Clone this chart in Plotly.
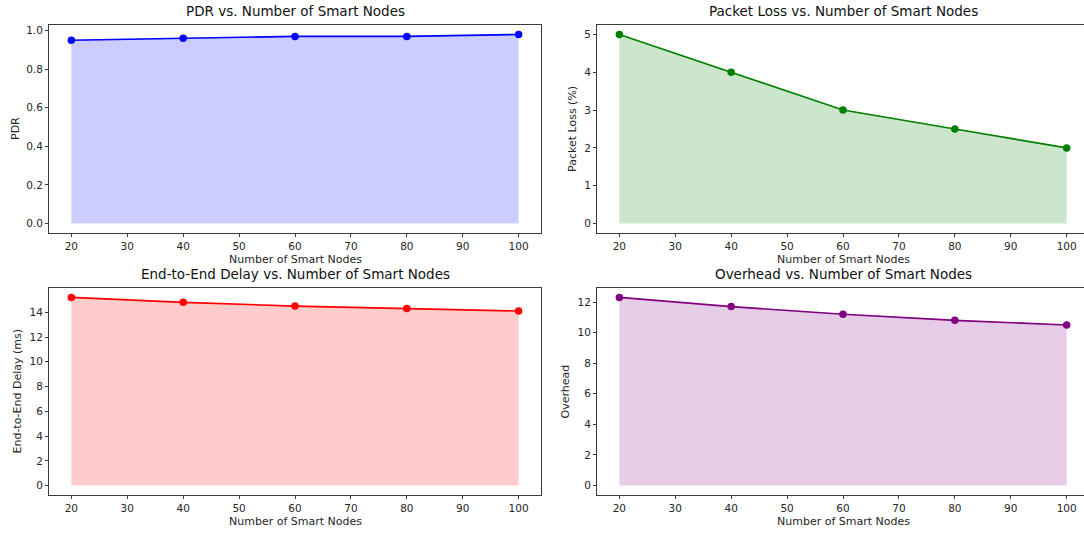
import plotly.graph_objects as go

W, H = 1084, 536

nodes = [20, 40, 60, 80, 100]
pdr = [0.95, 0.96, 0.97, 0.97, 0.98]
packet_loss = [5.0, 4.0, 3.0, 2.5, 2.0]
delay = [15.2, 14.8, 14.5, 14.3, 14.1]
overhead = [12.3, 11.7, 11.2, 10.8, 10.5]

titles = ["PDR vs. Number of Smart Nodes", "Packet Loss vs. Number of Smart Nodes",
          "End-to-End Delay vs. Number of Smart Nodes", "Overhead vs. Number of Smart Nodes"]
ylabels = ["PDR", "Packet Loss (%)", "End-to-End Delay (ms)", "Overhead"]
xlabel = "Number of Smart Nodes"
x_ticks = [20, 30, 40, 50, 60, 70, 80, 90, 100]
y_ticks = [[0.0, 0.2, 0.4, 0.6, 0.8, 1.0], [0, 1, 2, 3, 4, 5],
           [0, 2, 4, 6, 8, 10, 12, 14], [0, 2, 4, 6, 8, 10, 12]]
y_fmt = [".1f", "d", "d", "d"]
series = [pdr, packet_loss, delay, overhead]
line_colors = ["#0000ff", "#008000", "#ff0000", "#800080"]
fill_colors = ["rgba(0,0,255,0.2)", "rgba(0,128,0,0.2)", "rgba(255,0,0,0.2)", "rgba(128,0,128,0.2)"]

# pixel boxes in screenshot coords: (left, right, top, bottom)
boxes = [(49, 541, 25, 233), (597, 1084, 25, 233), (49, 541, 288, 495), (597, 1084, 288, 495)]
ylabel_x = [15, 572, 17, 565]
x_ranges = [[16, 104], [16, 103.1], [16, 104], [16, 103.1]]

FONT = "DejaVu Sans"
fig = go.Figure()
annotations = []

def px(x):
    return min(max(x / W, 0.0), 1.0)

def py(y):
    return min(max(1 - y / H, 0.0), 1.0)

for i in range(4):
    l, r, t, b = boxes[i]
    ax = "" if i == 0 else str(i + 1)
    ys = series[i]
    ymax = max(ys)
    yr = [-0.05 * ymax, ymax * 1.05]
    fig.add_trace(go.Scatter(x=nodes, y=ys, mode="lines", fill="tozeroy",
                             fillcolor=fill_colors[i], line=dict(width=0.8, color=fill_colors[i]),
                             xaxis="x" + ax, yaxis="y" + ax, hoverinfo="skip"))
    fig.add_trace(go.Scatter(x=nodes, y=ys, mode="lines+markers",
                             line=dict(width=1.6, color=line_colors[i]),
                             marker=dict(size=7.5, color=line_colors[i]),
                             xaxis="x" + ax, yaxis="y" + ax))
    common = dict(showgrid=False, zeroline=False, showline=True, mirror=True,
                  linecolor="#3a3a3a", linewidth=1, ticks="outside", ticklen=3,
                  tickcolor="#3a3a3a", tickfont=dict(family=FONT, size=10.5, color="#262626"))
    fig.update_layout(**{
        "xaxis" + ax: dict(domain=[px(l), px(r)], range=x_ranges[i],
                           tickvals=x_ticks, anchor="y" + ax, **common),
        "yaxis" + ax: dict(domain=[py(b), py(t)], range=yr, tickvals=y_ticks[i],
                           tickformat=y_fmt[i], anchor="x" + ax, **common),
    })
    cx = (l + r) / 2 if i % 2 == 0 else (l + 1089) / 2
    annotations.append(dict(text=titles[i], x=px(cx), y=py(t - 4), xref="paper", yref="paper",
                            xanchor="center", yanchor="bottom", showarrow=False,
                            font=dict(family=FONT, size=13.5, color="#111")))
    annotations.append(dict(text=xlabel, x=px(cx), y=py(b + 18), xref="paper", yref="paper",
                            xanchor="center", yanchor="top", showarrow=False,
                            font=dict(family=FONT, size=11, color="#262626")))
    annotations.append(dict(text=ylabels[i], x=px(ylabel_x[i]), y=py((t + b) / 2), xref="paper",
                            yref="paper", xanchor="center", yanchor="middle", textangle=-90,
                            showarrow=False, font=dict(family=FONT, size=11, color="#262626")))

fig.update_layout(width=W, height=H, margin=dict(l=0, r=0, t=0, b=0),
                  paper_bgcolor="white", plot_bgcolor="white", showlegend=False,
                  hovermode=False, annotations=annotations)
fig.write_html("out.html", config={"displayModeBar": False},
               post_script="document.body.style.margin='0px';")
